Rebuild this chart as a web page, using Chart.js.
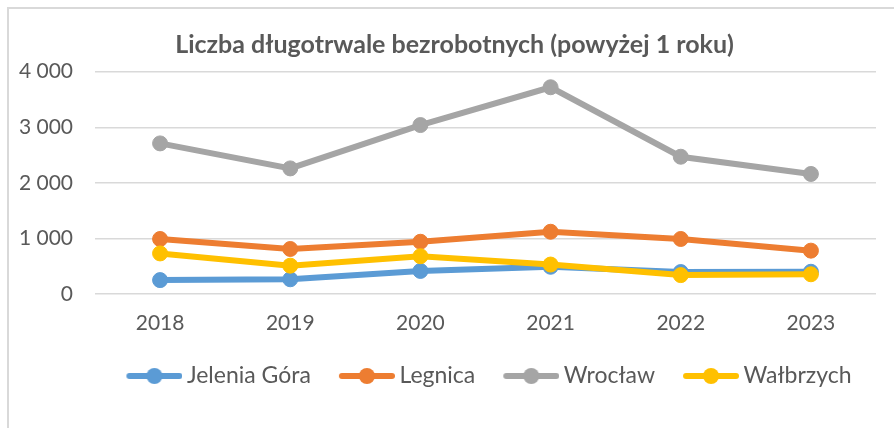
<!DOCTYPE html>
<html lang="pl">
<head>
<meta charset="utf-8">
<title>Liczba długotrwale bezrobotnych</title>
<script src="https://cdn.jsdelivr.net/npm/chart.js@4/dist/chart.umd.min.js"></script>
<style>
  html, body { margin: 0; padding: 0; background: #fff; overflow: hidden; }
  .frame {
    position: absolute; left: 7px; top: 7px; width: 900px; height: 440px;
    border-left: 2px solid #d9d9d9; border-top: 2px solid #d9d9d9;
  }
  .wrap { position: absolute; left: 0; top: 0; width: 894px; height: 428px; }
</style>
</head>
<body>
<div class="frame"></div>
<div class="wrap"><canvas id="chart"></canvas></div>
<script>
// --- data ---
const years = ['2018', '2019', '2020', '2021', '2022', '2023'];
const jeleniaGora = [250, 265, 415, 490, 395, 400];
const legnica = [990, 810, 940, 1120, 990, 780];
const wroclaw = [2710, 2260, 3040, 3720, 2470, 2160];
const walbrzych = [730, 510, 680, 530, 340, 355];
const seriesNames = ['Jelenia Góra', 'Legnica', 'Wrocław', 'Wałbrzych'];
const yTicks = [0, 1000, 2000, 3000, 4000];

const colors = ['#5B9BD5', '#ED7D31', '#A5A5A5', '#FFC000'];
const textColor = '#595959';

Chart.defaults.font.family = 'Lato, "Noto Sans", sans-serif';

// legend marker: a short line with a dot, like the spreadsheet legend
function legendIcon(color) {
  const c = document.createElement('canvas');
  c.width = 70; c.height = 20;
  const g = c.getContext('2d');
  g.strokeStyle = color;
  g.fillStyle = color;
  g.lineWidth = 6;
  g.lineCap = 'round';
  g.beginPath();
  g.moveTo(17, 10);
  g.lineTo(67, 10);
  g.stroke();
  g.beginPath();
  g.arc(42, 10, 8, 0, Math.PI * 2);
  g.fill();
  return c;
}
const icons = colors.map(legendIcon);

function fmt(v) {
  return String(v).replace(/\B(?=(\d{3})+(?!\d))/g, ' ');
}

const values = [jeleniaGora, legnica, wroclaw, walbrzych];
const datasets = values.map((vals, i) => ({
  label: seriesNames[i],
  data: vals,
  borderColor: colors[i],
  backgroundColor: colors[i],
  borderWidth: 6,
  pointRadius: 7.5,
  pointBorderWidth: 1,
  pointHoverRadius: 7.5,
  tension: 0,
  order: values.length - 1 - i   // later series painted on top
}));

// y labels are clipped to the scale box; let them use the left margin too
const labelRoom = {
  id: 'labelRoom',
  afterLayout(chart) { chart.scales.y.left = 0; }
};

new Chart(document.getElementById('chart'), {
  type: 'line',
  data: { labels: years, datasets },
  plugins: [labelRoom],
  options: {
    responsive: true,
    maintainAspectRatio: false,
    animation: false,
    layout: { padding: { left: 33, right: 18, top: 0, bottom: 30.5 } },
    plugins: {
      title: {
        display: true,
        text: 'Liczba długotrwale bezrobotnych (powyżej 1 roku)',
        color: textColor,
        font: { size: 25, weight: 'bold' },
        padding: { top: 29.5, bottom: 12.2 }
      },
      legend: {
        position: 'bottom',
        fullSize: false,
        labels: {
          color: textColor,
          font: { size: 23 },
          usePointStyle: true,
          pointStyleWidth: 56,
          padding: 21,
          sort: (a, b) => a.datasetIndex - b.datasetIndex,
          generateLabels(chart) {
            const items = Chart.defaults.plugins.legend.labels.generateLabels(chart);
            items.forEach(it => { it.pointStyle = icons[it.datasetIndex]; });
            return items;
          }
        }
      },
      tooltip: { enabled: false }
    },
    scales: {
      x: {
        offset: true,
        grid: { display: false, drawTicks: true, tickLength: 17 },
        border: { display: false },
        ticks: { color: textColor, font: { size: 21 }, padding: 0 },
        afterFit(scale) { scale.height = 49.5; }
      },
      y: {
        min: 0,
        max: 4000,
        grid: { color: '#d9d9d9', lineWidth: 1.5, drawTicks: false },
        border: { display: false },
        ticks: {
          color: textColor,
          font: { size: 21 },
          padding: 22,
          stepSize: 1000,
          callback: v => yTicks.includes(v) ? fmt(v) : ''
        },
        afterFit(scale) { scale.width = 62; }
      }
    }
  }
});
</script>
</body>
</html>
